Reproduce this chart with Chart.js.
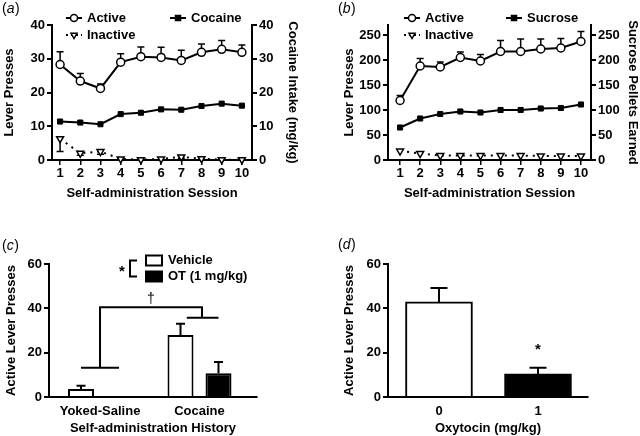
<!DOCTYPE html>
<html><head><meta charset="utf-8">
<script src="https://cdn.jsdelivr.net/npm/chart.js@4.4.0/dist/chart.umd.min.js"></script>
<style>
html,body{margin:0;padding:0;background:#fff;width:640px;height:436px;overflow:hidden;}
.p{position:absolute;width:320px;height:218px;}
</style></head><body>
<div class="p" style="left:0;top:0"><canvas id="ca"></canvas></div>
<div class="p" style="left:320px;top:0"><canvas id="cb"></canvas></div>
<div class="p" style="left:0;top:218px"><canvas id="cc"></canvas></div>
<div class="p" style="left:320px;top:218px"><canvas id="cd"></canvas></div>
<script>
// ---------- DATA ----------
const sessions = [1, 2, 3, 4, 5, 6, 7, 8, 9, 10];
// panel (a)
const aActive = [28.3, 23.4, 21.2, 29.0, 30.6, 30.4, 29.5, 31.9, 32.8, 31.9];
const aActiveSem = [3.8, 2.2, 1.3, 2.5, 2.9, 3.0, 3.0, 2.5, 2.6, 2.2];
const aInactive = [6.3, 2.0, 2.5, 0.3, 0.1, 0.3, 0.9, 0.4, 0.1, 0.1];
const aInactiveSem = [3.8, 0.6, 0.8, 0.2, 0, 0.2, 0.4, 0.2, 0, 0];
const aCocaine = [11.4, 11.1, 10.6, 13.6, 14.0, 15.0, 14.9, 16.0, 16.7, 16.1];
const aTicks = [0, 10, 20, 30, 40];
// panel (b)
const bActive = [119, 188, 186, 205, 198, 217, 217, 222, 224, 237];
const bActiveSem = [10, 15, 10, 11, 13, 22, 25, 20, 19, 20];
const bInactive = [18, 13, 9, 9, 9, 9, 9, 8, 8, 8];
const bSucrose = [65, 83, 92, 97, 95, 100, 100, 103, 104, 111];
const bTicks = [0, 50, 100, 150, 200, 250];
// panel (c)
const cGroups = ['Yoked-Saline', 'Cocaine'];
const cVehicle = [3.6, 28.0];
const cVehicleSem = [1.5, 5.0];
const cOT = [null, 10.7];
const cOTSem = [0, 5.1];
const cBracketLow = [13.2, 35.8];
const cBracketTop = 40.5;
const cTicks = [0, 20, 40, 60];
// panel (d)
const dDoses = ['0', '1'];
const dValues = [42.9, 10.4];
const dSem = [6.3, 2.8];
const dStarValue = 23;
const dTicks = [0, 20, 40, 60];

// ---------- DEFAULTS ----------
const FAM = "'Liberation Sans', Arial, Helvetica, sans-serif";
Chart.defaults.font.family = FAM;
Chart.defaults.font.size = 13;
Chart.defaults.font.weight = 'bold';
Chart.defaults.color = '#000';
Chart.defaults.animation = false;
Chart.defaults.plugins.legend.display = false;
Chart.defaults.plugins.tooltip.enabled = false;

function yAxis(o) {
  return {
    type: 'linear', position: o.position, min: o.min, max: o.max,
    afterBuildTicks: s => { s.ticks = o.ticks.map(v => ({value: v})); },
    afterFit: s => { s.width = o.width; },
    border: {display: true, color: '#000', width: 2},
    grid: {display: true, drawOnChartArea: false, drawTicks: true, tickLength: 5, color: '#000', lineWidth: 2},
    ticks: {padding: 2, color: '#000', callback: v => String(v)},
    title: {display: true, text: o.title, color: '#000', padding: {top: o.tpad, bottom: 0}}
  };
}
function xAxis(o) {
  return {
    type: 'linear', position: 'bottom', min: o.min, max: o.max, offset: false,
    afterBuildTicks: s => { s.ticks = o.ticks.map(v => ({value: v})); },
    afterFit: s => { s.height = o.height; },
    border: {display: true, color: '#000', width: 2},
    grid: {display: o.tickMarks, offset: false, drawOnChartArea: false, drawTicks: o.tickMarks, tickLength: 5, color: '#000', lineWidth: 1.5},
    ticks: {padding: o.tpadTicks, autoSkip: false, maxRotation: 0, color: '#000', callback: o.labels ? (v => o.labels[v]) : (v => String(v))},
    title: {display: true, text: o.title, color: '#000', padding: {top: 0, bottom: o.tpad}}
  };
}

function drawErr(chart, dsIndex, sem, dir, cap, lw) {
  const ctx = chart.ctx;
  const meta = chart.getDatasetMeta(dsIndex);
  const ds = chart.data.datasets[dsIndex];
  const ys = chart.scales[meta.yAxisID];
  ctx.save();
  ctx.strokeStyle = '#000'; ctx.lineWidth = lw || 2;
  meta.data.forEach((el, i) => {
    const d = ds.data[i];
    const v = (d && typeof d === 'object') ? d.y : d;
    const e = sem[i];
    if (v == null || !e) return;
    const y0 = ys.getPixelForValue(v), y1 = ys.getPixelForValue(v + dir * e);
    ctx.beginPath();
    ctx.moveTo(el.x, y0); ctx.lineTo(el.x, y1);
    ctx.moveTo(el.x - cap, y1); ctx.lineTo(el.x + cap, y1);
    ctx.stroke();
  });
  ctx.restore();
}

function marker(ctx, kind, x, y) {
  ctx.save();
  ctx.lineWidth = 1.5; ctx.strokeStyle = '#000';
  ctx.beginPath();
  if (kind === 'circle') { ctx.arc(x, y, 3.5, 0, Math.PI * 2); ctx.fillStyle = '#fff'; }
  else if (kind === 'rect') { ctx.rect(x - 2.5, y - 2.5, 5, 5); ctx.fillStyle = '#000'; }
  else { const r = 3.5; ctx.moveTo(x, y + r); ctx.lineTo(x - r * 0.866, y - r / 2); ctx.lineTo(x + r * 0.866, y - r / 2); ctx.closePath(); ctx.fillStyle = '#fff'; }
  ctx.fill(); ctx.stroke();
  ctx.restore();
}
function legendItem(ctx, kind, dashed, cx, cy, text) {
  ctx.save();
  ctx.strokeStyle = '#000'; ctx.lineWidth = 2;
  if (dashed) ctx.setLineDash([2, 3]);
  ctx.beginPath(); ctx.moveTo(cx - 8, cy); ctx.lineTo(cx + 8, cy); ctx.stroke();
  ctx.restore();
  marker(ctx, kind, cx, cy);
  ctx.save();
  ctx.font = "bold 13px " + FAM; ctx.fillStyle = '#000'; ctx.textBaseline = 'middle'; ctx.textAlign = 'left';
  ctx.fillText(text, cx + 13, cy + 0.5);
  ctx.restore();
}
function panelLabel(ctx, letter, x, y) {
  ctx.save();
  ctx.fillStyle = '#000'; ctx.textBaseline = 'middle'; ctx.textAlign = 'left';
  ctx.font = "14px " + FAM; ctx.fillText('(', x, y);
  let w = ctx.measureText('(').width;
  ctx.font = "italic 14px " + FAM; ctx.fillText(letter, x + w, y);
  w += ctx.measureText(letter).width + 0.5;
  ctx.font = "14px " + FAM; ctx.fillText(')', x + w, y);
  ctx.restore();
}

const lineBase = {borderColor: '#000', borderWidth: 2, tension: 0, clip: false, pointBorderColor: '#000'};

// ---------- PANEL A ----------
new Chart(document.getElementById('ca'), {
  type: 'line',
  data: {datasets: [
    Object.assign({}, lineBase, {label: 'Active', yAxisID: 'y', data: sessions.map((s, i) => ({x: s, y: aActive[i]})),
      pointStyle: 'circle', pointRadius: 4, pointBackgroundColor: '#fff', pointBorderWidth: 1.5}),
    Object.assign({}, lineBase, {label: 'Inactive', yAxisID: 'y', data: sessions.map((s, i) => ({x: s, y: aInactive[i]})),
      borderDash: [2, 5], borderWidth: 2, pointStyle: 'triangle', pointRotation: 180, pointRadius: 4, pointBackgroundColor: '#fff', pointBorderWidth: 1.5}),
    Object.assign({}, lineBase, {label: 'Cocaine', yAxisID: 'y2', data: sessions.map((s, i) => ({x: s, y: aCocaine[i]})),
      pointStyle: 'rect', pointRadius: 3.6, pointBackgroundColor: '#000', pointBorderWidth: 1})
  ]},
  options: {
    responsive: true, maintainAspectRatio: false,
    layout: {padding: {top: 25, left: 0, right: 0, bottom: 0}},
    scales: {
      x: xAxis({min: 0.6, max: 10.5, ticks: sessions, height: 58, title: 'Self-administration Session', tpad: 17, tpadTicks: 1, tickMarks: true}),
      y: yAxis({position: 'left', min: 0, max: 40, ticks: aTicks, width: 52, title: 'Lever Presses', tpad: 2}),
      y2: yAxis({position: 'right', min: 0, max: 40, ticks: aTicks, width: 68, title: 'Cocaine Intake (mg/kg)', tpad: 20})
    }
  },
  plugins: [{
    id: 'pa',
    beforeDatasetsDraw(chart) {
      drawErr(chart, 0, aActiveSem, 1, 3.5, 1.5);
      drawErr(chart, 1, aInactiveSem, -1, 3.5, 1.5);
    },
    afterDraw(chart) {
      const ctx = chart.ctx;
      legendItem(ctx, 'circle', false, 74, 18, 'Active');
      legendItem(ctx, 'tri', true, 74, 35, 'Inactive');
      legendItem(ctx, 'rect', false, 178, 18, 'Cocaine');
      panelLabel(ctx, 'a', 2, 9);
    }
  }]
});

// ---------- PANEL B ----------
new Chart(document.getElementById('cb'), {
  type: 'line',
  data: {datasets: [
    Object.assign({}, lineBase, {label: 'Active', yAxisID: 'y', data: sessions.map((s, i) => ({x: s, y: bActive[i]})),
      pointStyle: 'circle', pointRadius: 4, pointBackgroundColor: '#fff', pointBorderWidth: 1.5}),
    Object.assign({}, lineBase, {label: 'Inactive', yAxisID: 'y', data: sessions.map((s, i) => ({x: s, y: bInactive[i]})),
      borderDash: [2, 5], borderWidth: 2, pointStyle: 'triangle', pointRotation: 180, pointRadius: 4, pointBackgroundColor: '#fff', pointBorderWidth: 1.5}),
    Object.assign({}, lineBase, {label: 'Sucrose', yAxisID: 'y2', data: sessions.map((s, i) => ({x: s, y: bSucrose[i]})),
      pointStyle: 'rect', pointRadius: 3.6, pointBackgroundColor: '#000', pointBorderWidth: 1})
  ]},
  options: {
    responsive: true, maintainAspectRatio: false,
    layout: {padding: {top: 25, left: 0, right: 0, bottom: 0}},
    scales: {
      x: xAxis({min: 0.4, max: 10.5, ticks: sessions, height: 58, title: 'Self-administration Session', tpad: 17, tpadTicks: 1, tickMarks: true}),
      y: yAxis({position: 'left', min: 0, max: 270, ticks: bTicks, width: 68, title: 'Lever Presses', tpad: 22}),
      y2: yAxis({position: 'right', min: 0, max: 270, ticks: bTicks, width: 49, title: 'Sucrose Pellets Earned', tpad: 0})
    }
  },
  plugins: [{
    id: 'pb',
    beforeDatasetsDraw(chart) {
      drawErr(chart, 0, bActiveSem, 1, 3.5, 1.5);
    },
    afterDraw(chart) {
      const ctx = chart.ctx;
      legendItem(ctx, 'circle', false, 92, 18, 'Active');
      legendItem(ctx, 'tri', true, 92, 35, 'Inactive');
      legendItem(ctx, 'rect', false, 194, 18, 'Sucrose');
      panelLabel(ctx, 'b', 18, 9);
    }
  }]
});

// ---------- PANEL C ----------
new Chart(document.getElementById('cc'), {
  type: 'bar',
  data: {datasets: [
    {label: 'Vehicle', data: cGroups.map((g, i) => ({x: i, y: cVehicle[i]})), backgroundColor: '#fff', borderColor: '#000', borderWidth: 2, borderSkipped: 'start',
      categoryPercentage: 0.764, barPercentage: 0.684},
    {label: 'OT (1 mg/kg)', data: cGroups.map((g, i) => ({x: i, y: cOT[i]})), backgroundColor: '#000', borderColor: '#000', borderWidth: 2, borderSkipped: 'start',
      categoryPercentage: 0.764, barPercentage: 0.684}
  ]},
  options: {
    responsive: true, maintainAspectRatio: false,
    layout: {padding: {top: 46, left: 0, right: 63, bottom: 0}},
    scales: {
      x: xAxis({min: -0.513, max: 1.578, ticks: [0, 1], labels: cGroups, height: 39, title: 'Self-administration History', tpad: 0, tpadTicks: 7, tickMarks: false}),
      y: yAxis({position: 'left', min: 0, max: 60, ticks: cTicks, width: 49, title: 'Active Lever Presses', tpad: 4})
    }
  },
  plugins: [{
    id: 'pc',
    afterDatasetsDraw(chart) {
      drawErr(chart, 0, cVehicleSem, 1, 4.5, 2);
      drawErr(chart, 1, cOTSem, 1, 4.5, 2);
      const ctx = chart.ctx, xs = chart.scales.x, ys = chart.scales.y;
      const m0 = chart.getDatasetMeta(0), m1 = chart.getDatasetMeta(1);
      const half = (m1.data[1].x - m0.data[1].x) / 2;
      const c0 = xs.getPixelForValue(0), c1 = xs.getPixelForValue(1);
      const yl0 = ys.getPixelForValue(cBracketLow[0]), yl1 = ys.getPixelForValue(cBracketLow[1]);
      const yt = ys.getPixelForValue(cBracketTop);
      ctx.save();
      ctx.strokeStyle = '#000'; ctx.lineWidth = 2;
      ctx.beginPath();
      ctx.moveTo(c0 - half, yl0); ctx.lineTo(c0 + half, yl0);
      ctx.moveTo(c1 - half * 0.67, yl1); ctx.lineTo(c1 + half, yl1);
      ctx.moveTo(c0, yl0); ctx.lineTo(c0, yt); ctx.lineTo(c1 + 2.5, yt); ctx.lineTo(c1 + 2.5, yl1);
      ctx.stroke();
      ctx.fillStyle = '#000'; ctx.textAlign = 'center'; ctx.textBaseline = 'alphabetic';
      ctx.font = "14px " + FAM;
      ctx.fillText('\u2020', (c0 + c1 + 2.5) / 2, yt - 4);
      ctx.restore();
    },
    afterDraw(chart) {
      const ctx = chart.ctx;
      ctx.save();
      ctx.fillStyle = '#000'; ctx.strokeStyle = '#000'; ctx.lineWidth = 2;
      ctx.font = "bold 15px " + FAM; ctx.textAlign = 'center'; ctx.textBaseline = 'alphabetic';
      ctx.fillText('*', 122, 58);
      ctx.beginPath(); ctx.moveTo(137, 42.5); ctx.lineTo(130, 42.5); ctx.lineTo(130, 58.5); ctx.lineTo(137, 58.5); ctx.stroke();
      ctx.fillStyle = '#fff'; ctx.fillRect(146, 37.5, 16, 10); ctx.strokeRect(146, 37.5, 16, 10);
      ctx.fillStyle = '#000'; ctx.fillRect(145, 52.5, 18, 12);
      ctx.font = "bold 13px " + FAM; ctx.textAlign = 'left'; ctx.textBaseline = 'middle';
      ctx.fillText('Vehicle', 168, 42.5);
      ctx.fillText('OT (1 mg/kg)', 168, 58.5);
      ctx.restore();
      panelLabel(ctx, 'c', 2, 28);
    }
  }]
});

// ---------- PANEL D ----------
new Chart(document.getElementById('cd'), {
  type: 'bar',
  data: {datasets: [
    {label: 'Oxytocin', data: dDoses.map((g, i) => ({x: i, y: dValues[i]})),
      backgroundColor: ['#fff', '#000'], borderColor: '#000', borderWidth: 2, borderSkipped: 'start', barThickness: 67}
  ]},
  options: {
    responsive: true, maintainAspectRatio: false,
    layout: {padding: {top: 46, left: 0, right: 52, bottom: 0}},
    scales: {
      x: xAxis({min: -0.515, max: 1.505, ticks: [0, 1], labels: dDoses, height: 39, title: 'Oxytocin (mg/kg)', tpad: 0, tpadTicks: 7, tickMarks: false}),
      y: yAxis({position: 'left', min: 0, max: 60, ticks: dTicks, width: 68, title: 'Active Lever Presses', tpad: 22})
    }
  },
  plugins: [{
    id: 'pd',
    afterDatasetsDraw(chart) {
      drawErr(chart, 0, dSem, 1, 8.5, 2);
      const ctx = chart.ctx, xs = chart.scales.x, ys = chart.scales.y;
      ctx.save();
      ctx.fillStyle = '#000'; ctx.font = "bold 15px " + FAM; ctx.textAlign = 'center'; ctx.textBaseline = 'alphabetic';
      ctx.fillText('*', xs.getPixelForValue(1), ys.getPixelForValue(dStarValue) + 8);
      ctx.restore();
    },
    afterDraw(chart) { panelLabel(chart.ctx, 'd', 18, 27); }
  }]
});
</script>
</body></html>
